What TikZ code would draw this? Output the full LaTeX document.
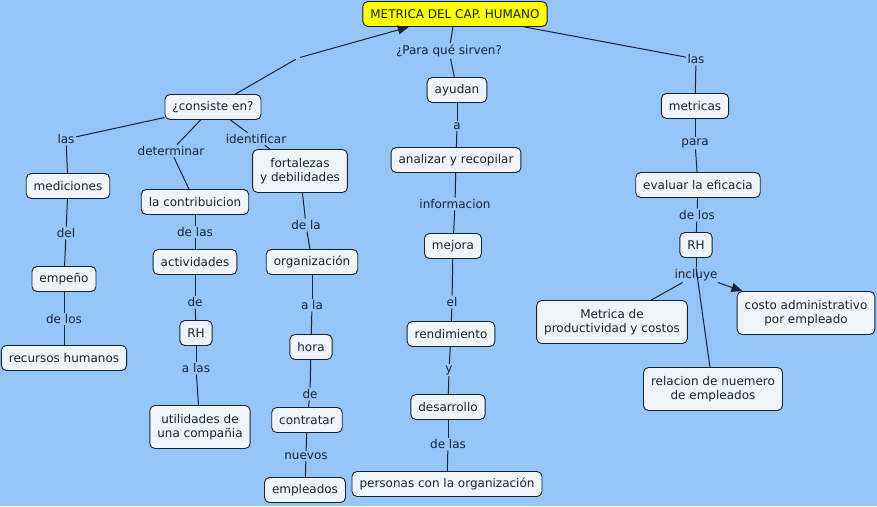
\documentclass[tikz,border=0pt]{standalone}
\usepackage{fontspec}
\setmainfont{DejaVu Sans}
\usetikzlibrary{arrows.meta}
\definecolor{mapbg}{RGB}{150,197,250}
\definecolor{conceptfill}{RGB}{238,244,247}
\definecolor{inkcol}{RGB}{25,35,50}
\definecolor{rootfill}{RGB}{255,255,0}

\begin{document}
\begin{tikzpicture}[
    x=1pt, y=-1pt,
    >={Triangle[length=11pt,width=9pt]},
    font=\fontsize{12}{14.6}\selectfont,
    concept/.style={
        draw=inkcol,
        fill=conceptfill,
        rounded corners=5pt,
        line width=0.9pt,
        minimum height=25pt,
        inner xsep=7.5pt,
        inner ysep=3pt,
        align=center,
        text=inkcol
    },
    concepttwo/.style={concept, minimum height=43pt},
    linkword/.style={inner sep=1.5pt, text=inkcol},
    link/.style={draw=inkcol, line width=1pt}
]

\fill[mapbg] (0,0) rectangle (877,506);
\useasboundingbox (0,0) rectangle (877,506);

\node[concept, fill=rootfill] (root) at (455,14) {METRICA DEL CAP. HUMANO};

% left branch
\node[linkword, minimum size=4pt] (blank) at (298,58) {};
\node[concept] (consiste) at (213,107) {¿consiste en?};
\node[linkword] (las1) at (66,139) {las};
\node[linkword] (determinar) at (171,151) {determinar};
\node[linkword] (identificar) at (256,139) {identificar};

\node[concept] (mediciones) at (68,186) {mediciones};
\node[linkword] (del) at (66,233) {del};
\node[concept] (empeno) at (64,279) {empeño};
\node[linkword] (delos1) at (64,319) {de los};
\node[concept] (recursos) at (64,358) {recursos humanos};

\node[concept] (contrib) at (195,202) {la contribuicion};
\node[linkword] (delas1) at (195,232) {de las};
\node[concept] (actividades) at (195,262) {actividades};
\node[linkword] (de1) at (195,302) {de};
\node[concept] (rh1) at (196,333) {RH};
\node[linkword] (alas) at (196,368) {a las};
\node[concepttwo] (utilidades) at (200,427) {utilidades de\\una compañia};

\node[concepttwo] (fortalezas) at (300,171) {fortalezas\\y debilidades};
\node[linkword] (dela) at (306,225) {de la};
\node[concept] (organizacion) at (312,262) {organización};
\node[linkword] (ala) at (312,305) {a la};
\node[concept] (hora) at (311,347) {hora};
\node[linkword] (de2) at (310,394) {de};
\node[concept] (contratar) at (307,420) {contratar};
\node[linkword] (nuevos) at (306,456) {nuevos};
\node[concept] (empleados) at (305,490) {empleados};

% middle branch
\node[linkword] (sirven) at (449,51) {¿Para qué sirven?};
\node[concept] (ayudan) at (457,90) {ayudan};
\node[linkword] (a) at (457,126) {a};
\node[concept] (analizar) at (456,160) {analizar y recopilar};
\node[linkword] (informacion) at (455,204) {informacion};
\node[concept] (mejora) at (453,246) {mejora};
\node[linkword] (el) at (452,302) {el};
\node[concept] (rendimiento) at (451,334) {rendimiento};
\node[linkword] (y) at (449,370) {y};
\node[concept] (desarrollo) at (448,407) {desarrollo};
\node[linkword] (delas2) at (448,444) {de las};
\node[concept] (personas) at (447,484) {personas con la organización};

% right branch
\node[linkword] (las2) at (696,59) {las};
\node[concept] (metricas) at (695,106) {metricas};
\node[linkword] (para) at (695,143) {para};
\node[concept] (evaluar) at (698,185) {evaluar la eficacia};
\node[linkword] (delos2) at (697,215) {de los};
\node[concept] (rh2) at (696,245) {RH};
\node[linkword] (incluye) at (696,275) {incluye};
\node[concepttwo] (productividad) at (612,322) {Metrica de\\productividad y costos};
\node[concepttwo] (costo) at (806,313) {costo administrativo\\por empleado};
\node[concepttwo] (relacion) at (713,389) {relacion de nuemero\\de empleados};

\draw[link] (consiste) -- (blank);
\draw[link, ->] (blank) -- (root);
\draw[link] (root) -- (sirven);
\draw[link] (sirven) -- (ayudan);
\draw[link] (root) -- (las2);
\draw[link] (las2) -- (metricas);

\draw[link] (consiste) -- (las1);
\draw[link] (las1) -- (mediciones);
\draw[link] (consiste) -- (determinar);
\draw[link] (determinar) -- (contrib);
\draw[link] (consiste) -- (identificar);
\draw[link] (identificar) -- (fortalezas);

\draw[link] (mediciones) -- (del);
\draw[link] (del) -- (empeno);
\draw[link] (empeno) -- (delos1);
\draw[link] (delos1) -- (recursos);

\draw[link] (contrib) -- (delas1);
\draw[link] (delas1) -- (actividades);
\draw[link] (actividades) -- (de1);
\draw[link] (de1) -- (rh1);
\draw[link] (rh1) -- (alas);
\draw[link] (alas) -- (utilidades);

\draw[link] (fortalezas) -- (dela);
\draw[link] (dela) -- (organizacion);
\draw[link] (organizacion) -- (ala);
\draw[link] (ala) -- (hora);
\draw[link] (hora) -- (de2);
\draw[link] (de2) -- (contratar);
\draw[link] (contratar) -- (nuevos);
\draw[link] (nuevos) -- (empleados);

\draw[link] (ayudan) -- (a);
\draw[link] (a) -- (analizar);
\draw[link] (analizar) -- (informacion);
\draw[link] (informacion) -- (mejora);
\draw[link] (mejora) -- (el);
\draw[link] (el) -- (rendimiento);
\draw[link] (rendimiento) -- (y);
\draw[link] (y) -- (desarrollo);
\draw[link] (desarrollo) -- (delas2);
\draw[link] (delas2) -- (personas);

\draw[link] (metricas) -- (para);
\draw[link] (para) -- (evaluar);
\draw[link] (evaluar) -- (delos2);
\draw[link] (delos2) -- (rh2);
\draw[link] (rh2) -- (incluye);
\draw[link] (incluye) -- (productividad);
\draw[link, ->] (incluye) -- (costo);
\draw[link] (incluye.north) -- (relacion);

\end{tikzpicture}
\end{document}
